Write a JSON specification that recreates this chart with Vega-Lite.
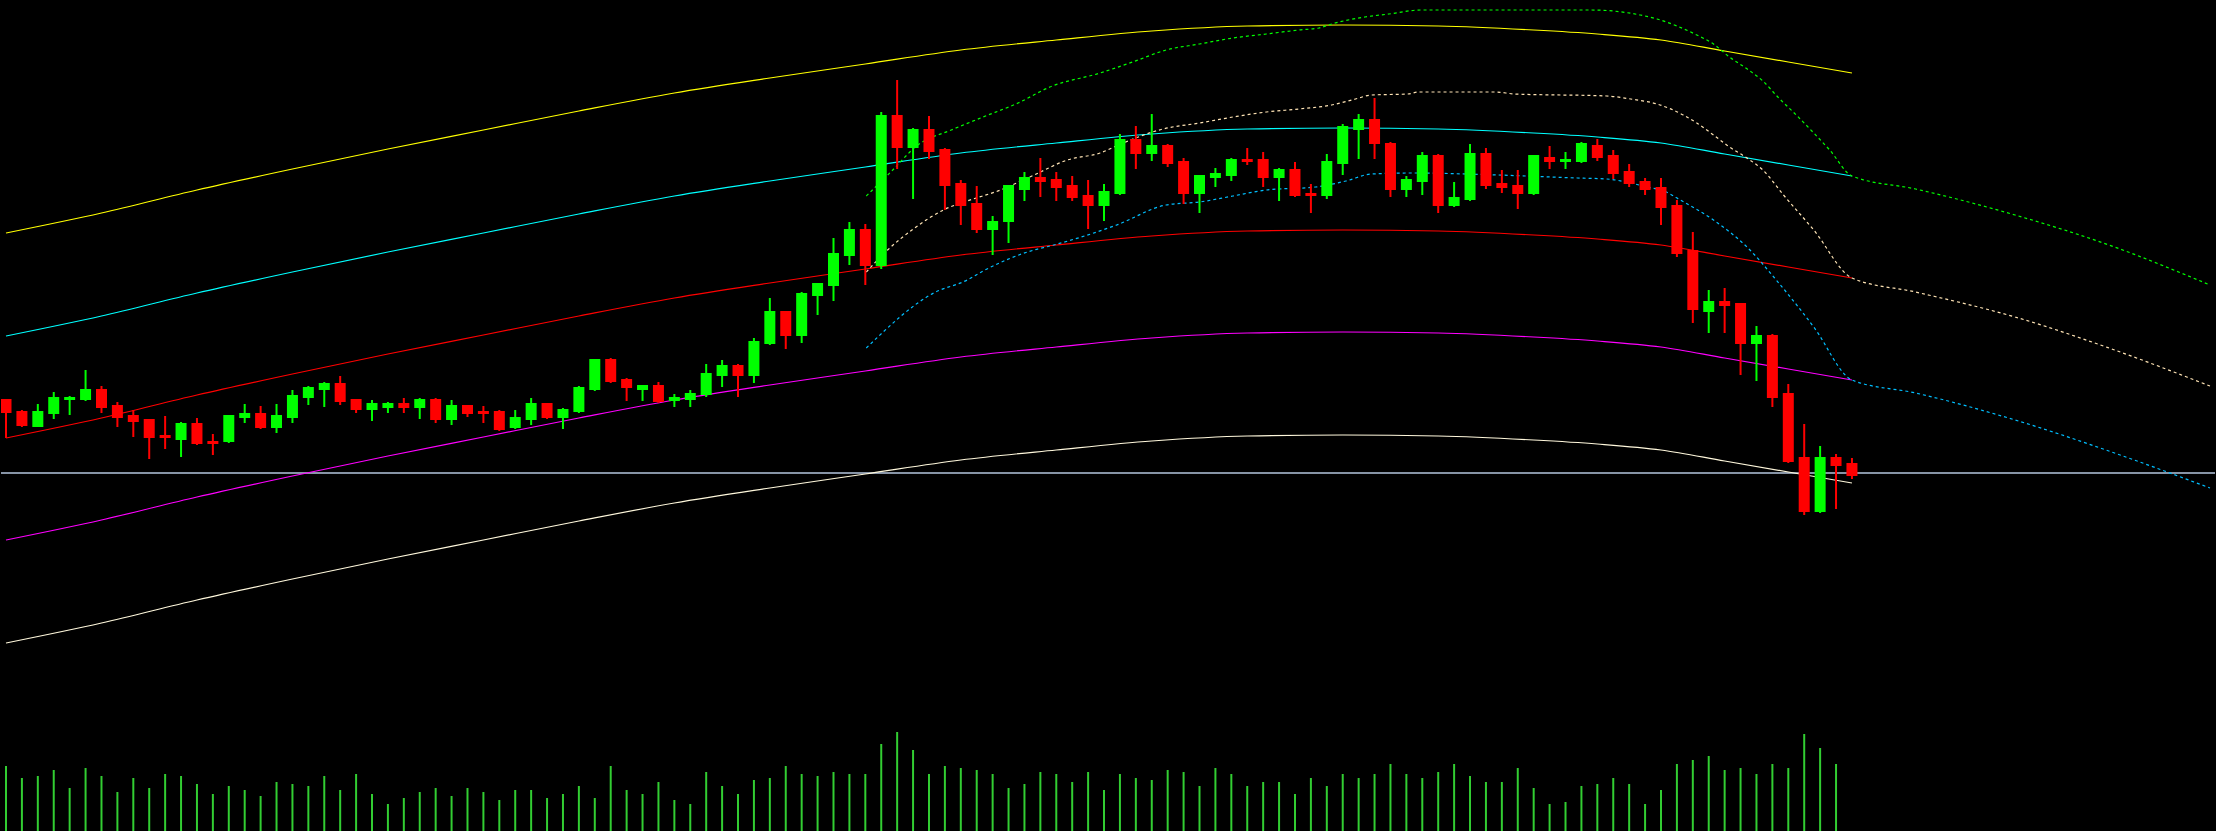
{
  "$schema": "https://vega.github.io/schema/vega-lite/v6.json",
  "width": 2216,
  "height": 831,
  "autosize": {"type": "fit", "contains": "padding"},
  "padding": 0,
  "background": "#000000",
  "config": {"view": {"stroke": null}},
  "datasets": {
    "candles": [
      {"i":0,"o":601,"h":601,"l":562,"c":587},{"i":1,"o":589,"h":590,"l":573,"c":574},{"i":2,"o":573,"h":596,"l":573,"c":589},{"i":3,"o":586,"h":608,"l":581,"c":603},{"i":4,"o":600,"h":604,"l":585,"c":603},{"i":5,"o":600,"h":630,"l":599,"c":611},{"i":6,"o":611,"h":614,"l":587,"c":592},{"i":7,"o":595,"h":598,"l":573,"c":582},{"i":8,"o":585,"h":590,"l":563,"c":578},{"i":9,"o":581,"h":581,"l":541,"c":562},
      {"i":10,"o":565,"h":584,"l":551,"c":562},{"i":11,"o":560,"h":578,"l":543,"c":577},{"i":12,"o":577,"h":582,"l":555,"c":556},{"i":13,"o":559,"h":566,"l":545,"c":556},{"i":14,"o":558,"h":585,"l":557,"c":585},{"i":15,"o":582,"h":596,"l":577,"c":587},{"i":16,"o":587,"h":594,"l":571,"c":572},{"i":17,"o":572,"h":596,"l":567,"c":585},{"i":18,"o":582,"h":610,"l":577,"c":605},{"i":19,"o":602,"h":614,"l":595,"c":613},
      {"i":20,"o":610,"h":618,"l":593,"c":617},{"i":21,"o":617,"h":624,"l":595,"c":598},{"i":22,"o":601,"h":601,"l":587,"c":590},{"i":23,"o":590,"h":600,"l":579,"c":597},{"i":24,"o":592,"h":598,"l":587,"c":597},{"i":25,"o":597,"h":602,"l":587,"c":592},{"i":26,"o":592,"h":602,"l":581,"c":601},{"i":27,"o":601,"h":602,"l":577,"c":580},{"i":28,"o":580,"h":600,"l":575,"c":595},{"i":29,"o":595,"h":595,"l":583,"c":586},
      {"i":30,"o":589,"h":594,"l":577,"c":586},{"i":31,"o":589,"h":590,"l":569,"c":570},{"i":32,"o":572,"h":590,"l":571,"c":583},{"i":33,"o":580,"h":602,"l":575,"c":597},{"i":34,"o":597,"h":597,"l":581,"c":582},{"i":35,"o":582,"h":592,"l":571,"c":591},{"i":36,"o":588,"h":614,"l":587,"c":613},{"i":37,"o":610,"h":641,"l":609,"c":641},{"i":38,"o":641,"h":642,"l":617,"c":618},{"i":39,"o":621,"h":622,"l":599,"c":612},
      {"i":40,"o":610,"h":615,"l":599,"c":615},{"i":41,"o":615,"h":618,"l":597,"c":598},{"i":42,"o":599,"h":606,"l":593,"c":603},{"i":43,"o":600,"h":610,"l":593,"c":607},{"i":44,"o":605,"h":636,"l":603,"c":627},{"i":45,"o":624,"h":640,"l":613,"c":635},{"i":46,"o":635,"h":636,"l":603,"c":624},{"i":47,"o":624,"h":662,"l":617,"c":659},{"i":48,"o":656,"h":702,"l":655,"c":689},{"i":49,"o":689,"h":689,"l":651,"c":664},
      {"i":50,"o":664,"h":708,"l":657,"c":707},{"i":51,"o":704,"h":717,"l":685,"c":717},{"i":52,"o":714,"h":762,"l":699,"c":747},{"i":53,"o":744,"h":778,"l":735,"c":771},{"i":54,"o":771,"h":776,"l":715,"c":734},{"i":55,"o":734,"h":888,"l":731,"c":885},{"i":56,"o":885,"h":920,"l":831,"c":852},{"i":57,"o":852,"h":872,"l":801,"c":871},{"i":58,"o":871,"h":884,"l":841,"c":848},{"i":59,"o":851,"h":852,"l":790,"c":814},
      {"i":60,"o":817,"h":820,"l":775,"c":794},{"i":61,"o":797,"h":814,"l":767,"c":770},{"i":62,"o":770,"h":784,"l":745,"c":779},{"i":63,"o":778,"h":815,"l":757,"c":815},{"i":64,"o":810,"h":828,"l":799,"c":823},{"i":65,"o":823,"h":842,"l":803,"c":818},{"i":66,"o":821,"h":828,"l":799,"c":812},{"i":67,"o":815,"h":824,"l":799,"c":802},{"i":68,"o":805,"h":820,"l":771,"c":794},{"i":69,"o":794,"h":816,"l":779,"c":809},
      {"i":70,"o":806,"h":866,"l":805,"c":861},{"i":71,"o":861,"h":874,"l":831,"c":846},{"i":72,"o":846,"h":886,"l":839,"c":855},{"i":73,"o":855,"h":856,"l":833,"c":836},{"i":74,"o":839,"h":842,"l":796,"c":806},{"i":75,"o":806,"h":825,"l":787,"c":825},{"i":76,"o":822,"h":832,"l":813,"c":827},{"i":77,"o":824,"h":842,"l":819,"c":841},{"i":78,"o":841,"h":852,"l":835,"c":838},{"i":79,"o":841,"h":848,"l":813,"c":822},
      {"i":80,"o":822,"h":832,"l":799,"c":831},{"i":81,"o":831,"h":838,"l":803,"c":804},{"i":82,"o":807,"h":816,"l":787,"c":804},{"i":83,"o":804,"h":846,"l":801,"c":839},{"i":84,"o":836,"h":876,"l":825,"c":874},{"i":85,"o":870,"h":886,"l":841,"c":881},{"i":86,"o":881,"h":902,"l":841,"c":856},{"i":87,"o":857,"h":858,"l":803,"c":810},{"i":88,"o":810,"h":824,"l":803,"c":821},{"i":89,"o":818,"h":848,"l":805,"c":845},
      {"i":90,"o":845,"h":846,"l":787,"c":794},{"i":91,"o":794,"h":818,"l":793,"c":803},{"i":92,"o":800,"h":856,"l":799,"c":847},{"i":93,"o":847,"h":852,"l":811,"c":814},{"i":94,"o":817,"h":830,"l":807,"c":812},{"i":95,"o":815,"h":830,"l":791,"c":806},{"i":96,"o":806,"h":845,"l":805,"c":845},{"i":97,"o":843,"h":854,"l":831,"c":838},{"i":98,"o":838,"h":848,"l":831,"c":841},{"i":99,"o":838,"h":858,"l":837,"c":857},
      {"i":100,"o":855,"h":861,"l":839,"c":842},{"i":101,"o":845,"h":850,"l":821,"c":826},{"i":102,"o":829,"h":836,"l":813,"c":816},{"i":103,"o":819,"h":822,"l":805,"c":810},{"i":104,"o":813,"h":822,"l":775,"c":792},{"i":105,"o":795,"h":800,"l":743,"c":746},{"i":106,"o":750,"h":768,"l":677,"c":690},{"i":107,"o":688,"h":710,"l":667,"c":699},{"i":108,"o":699,"h":712,"l":667,"c":694},{"i":109,"o":697,"h":697,"l":625,"c":656},
      {"i":110,"o":656,"h":674,"l":619,"c":665},{"i":111,"o":665,"h":666,"l":593,"c":602},{"i":112,"o":607,"h":616,"l":537,"c":538},{"i":113,"o":543,"h":576,"l":485,"c":488},{"i":114,"o":488,"h":554,"l":487,"c":543},{"i":115,"o":543,"h":546,"l":491,"c":534},{"i":116,"o":537,"h":542,"l":521,"c":524}
    ],
    "bands": [
      {"i":0,"upper2":767,"upper1":664,"mid":562,"lower1":460,"lower2":357},
      {"i":6,"upper2":787,"upper1":684,"mid":582,"lower1":480,"lower2":377},
      {"i":12,"upper2":810,"upper1":707,"mid":605,"lower1":503,"lower2":400},
      {"i":18,"upper2":831,"upper1":728,"mid":626,"lower1":524,"lower2":421},
      {"i":24,"upper2":851,"upper1":748,"mid":646,"lower1":544,"lower2":441},
      {"i":30,"upper2":870,"upper1":767,"mid":665,"lower1":563,"lower2":460},
      {"i":36,"upper2":889,"upper1":786,"mid":684,"lower1":582,"lower2":479},
      {"i":42,"upper2":907,"upper1":804,"mid":702,"lower1":600,"lower2":497},
      {"i":48,"upper2":922,"upper1":819,"mid":717,"lower1":615,"lower2":512},
      {"i":54,"upper2":936,"upper1":833,"mid":731,"lower1":629,"lower2":526},
      {"i":60,"upper2":950,"upper1":847,"mid":745,"lower1":643,"lower2":540},
      {"i":66,"upper2":960,"upper1":857,"mid":755,"lower1":653,"lower2":550},
      {"i":72,"upper2":969,"upper1":866,"mid":764,"lower1":662,"lower2":559},
      {"i":78,"upper2":974,"upper1":871,"mid":769,"lower1":667,"lower2":564},
      {"i":84,"upper2":975,"upper1":872,"mid":770,"lower1":668,"lower2":565},
      {"i":90,"upper2":974,"upper1":871,"mid":769,"lower1":667,"lower2":564},
      {"i":96,"upper2":970,"upper1":867,"mid":765,"lower1":663,"lower2":560},
      {"i":100,"upper2":966,"upper1":863,"mid":761,"lower1":659,"lower2":556},
      {"i":104,"upper2":960,"upper1":857,"mid":755,"lower1":653,"lower2":550},
      {"i":108,"upper2":949,"upper1":846,"mid":744,"lower1":642,"lower2":539},
      {"i":112,"upper2":938,"upper1":835,"mid":733,"lower1":631,"lower2":528},
      {"i":116,"upper2":927,"upper1":824,"mid":722,"lower1":620,"lower2":517}
    ],
    "proj": [
      {"line":"g","i":54.06,"price":804},{"line":"g","i":55.6,"price":828},{"line":"g","i":57.3,"price":855},{"line":"g","i":59.4,"price":870},{"line":"g","i":61.4,"price":883},{"line":"g","i":63.6,"price":897},{"line":"g","i":65.6,"price":913},{"line":"g","i":68.75,"price":927},{"line":"g","i":70.8,"price":938},{"line":"g","i":72.9,"price":950},{"line":"g","i":75,"price":956},{"line":"g","i":77.1,"price":962},{"line":"g","i":79.2,"price":966},{"line":"g","i":81.25,"price":970},{"line":"g","i":82.5,"price":972},{"line":"g","i":83.3,"price":976},{"line":"g","i":85.4,"price":983},{"line":"g","i":86.9,"price":986},{"line":"g","i":88.9,"price":990},{"line":"g","i":99.6,"price":990},{"line":"g","i":102.7,"price":985},{"line":"g","i":103.75,"price":981},{"line":"g","i":105,"price":974},{"line":"g","i":106.25,"price":965},{"line":"g","i":107.3,"price":956},{"line":"g","i":108.3,"price":943},{"line":"g","i":109.6,"price":929},{"line":"g","i":110.4,"price":919},{"line":"g","i":111.4,"price":902},{"line":"g","i":112.5,"price":885},{"line":"g","i":113.6,"price":867},{"line":"g","i":114.6,"price":850},{"line":"g","i":116,"price":824},{"line":"g","i":120,"price":811},{"line":"g","i":126.25,"price":785},{"line":"g","i":132.5,"price":753},{"line":"g","i":138.5,"price":715},
      {"line":"p","i":54.06,"price":728},{"line":"p","i":55.4,"price":750},{"line":"p","i":57.1,"price":772},{"line":"p","i":58.9,"price":790},{"line":"p","i":60.4,"price":799},{"line":"p","i":62.5,"price":810},{"line":"p","i":64.6,"price":825},{"line":"p","i":66.7,"price":840},{"line":"p","i":68.75,"price":847},{"line":"p","i":70.2,"price":857},{"line":"p","i":72.7,"price":871},{"line":"p","i":75,"price":877},{"line":"p","i":77.1,"price":883},{"line":"p","i":79.2,"price":888},{"line":"p","i":81.25,"price":891},{"line":"p","i":83.3,"price":895},{"line":"p","i":84.8,"price":901},{"line":"p","i":85.8,"price":905},{"line":"p","i":88.1,"price":906},{"line":"p","i":88.75,"price":908},{"line":"p","i":93.6,"price":908},{"line":"p","i":94.8,"price":906},{"line":"p","i":100.6,"price":904},{"line":"p","i":102.1,"price":901},{"line":"p","i":103.75,"price":896},{"line":"p","i":105.4,"price":885},{"line":"p","i":106.25,"price":877},{"line":"p","i":107.3,"price":865},{"line":"p","i":108.3,"price":853},{"line":"p","i":109.4,"price":842},{"line":"p","i":110.4,"price":830},{"line":"p","i":111.7,"price":805},{"line":"p","i":113.6,"price":770},{"line":"p","i":116,"price":722},{"line":"p","i":120,"price":708},{"line":"p","i":126.25,"price":683},{"line":"p","i":132.5,"price":650},{"line":"p","i":138.5,"price":614},
      {"line":"b","i":54.06,"price":652},{"line":"b","i":58.3,"price":707},{"line":"b","i":60.4,"price":720},{"line":"b","i":61.4,"price":729},{"line":"b","i":64.6,"price":750},{"line":"b","i":65.6,"price":754},{"line":"b","i":69.8,"price":775},{"line":"b","i":72.9,"price":795},{"line":"b","i":75,"price":798},{"line":"b","i":77.1,"price":804},{"line":"b","i":79.2,"price":810},{"line":"b","i":82.3,"price":813},{"line":"b","i":84.2,"price":819},{"line":"b","i":85.8,"price":826},{"line":"b","i":88.3,"price":827},{"line":"b","i":93.75,"price":825},{"line":"b","i":98.75,"price":822},{"line":"b","i":100.6,"price":821},{"line":"b","i":102.1,"price":817},{"line":"b","i":103.1,"price":813},{"line":"b","i":104.2,"price":809},{"line":"b","i":105.1,"price":801},{"line":"b","i":107.3,"price":780},{"line":"b","i":109.4,"price":753},{"line":"b","i":111.4,"price":717},{"line":"b","i":113.6,"price":673},{"line":"b","i":116,"price":620},{"line":"b","i":120,"price":607},{"line":"b","i":126.25,"price":580},{"line":"b","i":132.5,"price":547},{"line":"b","i":138.5,"price":512}
    ],
    "vol": [
      {"i":0,"v":195},{"i":1,"v":159},{"i":2,"v":165},{"i":3,"v":183},{"i":4,"v":129},{"i":5,"v":189},{"i":6,"v":165},{"i":7,"v":117},{"i":8,"v":159},{"i":9,"v":129},
      {"i":10,"v":171},{"i":11,"v":165},{"i":12,"v":141},{"i":13,"v":111},{"i":14,"v":135},{"i":15,"v":123},{"i":16,"v":105},{"i":17,"v":147},{"i":18,"v":141},{"i":19,"v":135},
      {"i":20,"v":165},{"i":21,"v":123},{"i":22,"v":171},{"i":23,"v":111},{"i":24,"v":81},{"i":25,"v":99},{"i":26,"v":117},{"i":27,"v":129},{"i":28,"v":105},{"i":29,"v":129},
      {"i":30,"v":117},{"i":31,"v":93},{"i":32,"v":123},{"i":33,"v":123},{"i":34,"v":99},{"i":35,"v":111},{"i":36,"v":135},{"i":37,"v":99},{"i":38,"v":195},{"i":39,"v":123},
      {"i":40,"v":111},{"i":41,"v":147},{"i":42,"v":93},{"i":43,"v":81},{"i":44,"v":177},{"i":45,"v":135},{"i":46,"v":111},{"i":47,"v":153},{"i":48,"v":159},{"i":49,"v":195},
      {"i":50,"v":171},{"i":51,"v":165},{"i":52,"v":177},{"i":53,"v":171},{"i":54,"v":171},{"i":55,"v":261},{"i":56,"v":297},{"i":57,"v":243},{"i":58,"v":171},{"i":59,"v":195},
      {"i":60,"v":189},{"i":61,"v":183},{"i":62,"v":171},{"i":63,"v":129},{"i":64,"v":141},{"i":65,"v":177},{"i":66,"v":171},{"i":67,"v":147},{"i":68,"v":177},{"i":69,"v":123},
      {"i":70,"v":171},{"i":71,"v":159},{"i":72,"v":153},{"i":73,"v":183},{"i":74,"v":177},{"i":75,"v":135},{"i":76,"v":189},{"i":77,"v":171},{"i":78,"v":135},{"i":79,"v":147},
      {"i":80,"v":147},{"i":81,"v":111},{"i":82,"v":159},{"i":83,"v":135},{"i":84,"v":171},{"i":85,"v":159},{"i":86,"v":171},{"i":87,"v":201},{"i":88,"v":171},{"i":89,"v":159},
      {"i":90,"v":177},{"i":91,"v":201},{"i":92,"v":165},{"i":93,"v":147},{"i":94,"v":147},{"i":95,"v":189},{"i":96,"v":129},{"i":97,"v":81},{"i":98,"v":87},{"i":99,"v":135},
      {"i":100,"v":141},{"i":101,"v":159},{"i":102,"v":141},{"i":103,"v":81},{"i":104,"v":123},{"i":105,"v":201},{"i":106,"v":213},{"i":107,"v":225},{"i":108,"v":183},{"i":109,"v":189},
      {"i":110,"v":171},{"i":111,"v":201},{"i":112,"v":189},{"i":113,"v":291},{"i":114,"v":249},{"i":115,"v":201}
    ]
  },
  "layer": [
    {
      "layer": [
        {
          "data": {"values": [{"price": 527}]},
          "mark": {"type": "rule", "color": "#8794a6", "strokeWidth": 2},
          "encoding": {
            "y": {"field": "price", "type": "quantitative", "scale": {"domain": [169, 1000], "nice": false, "zero": false}, "axis": null}
          }
        },
        {
          "data": {"name": "bands"},
          "transform": [{"fold": ["upper2", "upper1", "mid", "lower1", "lower2"], "as": ["band", "price"]}],
          "mark": {"type": "line", "strokeWidth": 1.2, "interpolate": "monotone", "clip": true},
          "encoding": {
            "x": {"field": "i", "type": "quantitative", "scale": {"domain": [0, 138.5], "nice": false, "zero": false}, "axis": null},
            "y": {"field": "price", "type": "quantitative", "axis": null},
            "color": {"field": "band", "type": "nominal", "scale": {"domain": ["upper2", "upper1", "mid", "lower1", "lower2"], "range": ["#ffff00", "#00ffff", "#ff0000", "#ff00ff", "#fff8dc"]}, "legend": null}
          }
        },
        {
          "data": {"name": "proj"},
          "mark": {"type": "line", "strokeWidth": 1.2, "strokeDash": [3, 3], "interpolate": "monotone", "clip": true},
          "encoding": {
            "x": {"field": "i", "type": "quantitative", "axis": null},
            "y": {"field": "price", "type": "quantitative", "axis": null},
            "color": {"field": "line", "type": "nominal", "scale": {"domain": ["g", "p", "b"], "range": ["#00ff00", "#ffe4b5", "#00bfff"]}, "legend": null}
          }
        },
        {
          "data": {"name": "candles"},
          "mark": {"type": "rule", "strokeWidth": 2, "clip": true},
          "encoding": {
            "x": {"field": "i", "type": "quantitative", "axis": null},
            "y": {"field": "l", "type": "quantitative", "axis": null},
            "y2": {"field": "h"},
            "color": {"condition": {"test": "datum.c >= datum.o", "value": "#00ff00"}, "value": "#ff0000"}
          }
        },
        {
          "data": {"name": "candles"},
          "mark": {"type": "bar", "width": 11, "clip": true},
          "encoding": {
            "x": {"field": "i", "type": "quantitative", "axis": null},
            "y": {"field": "o", "type": "quantitative", "axis": null},
            "y2": {"field": "c"},
            "color": {"condition": {"test": "datum.c >= datum.o", "value": "#00ff00"}, "value": "#ff0000"}
          }
        }
      ],
      "resolve": {"scale": {"color": "independent"}}
    },
    {
      "data": {"name": "vol"},
      "mark": {"type": "rule", "strokeWidth": 2, "color": "#32cd32", "clip": true},
      "encoding": {
        "x": {"field": "i", "type": "quantitative", "axis": null},
        "y": {"field": "v", "type": "quantitative", "scale": {"domain": [0, 2493], "nice": false, "zero": true}, "axis": null},
        "y2": {"datum": 0}
      }
    }
  ],
  "resolve": {"scale": {"y": "independent"}}
}
